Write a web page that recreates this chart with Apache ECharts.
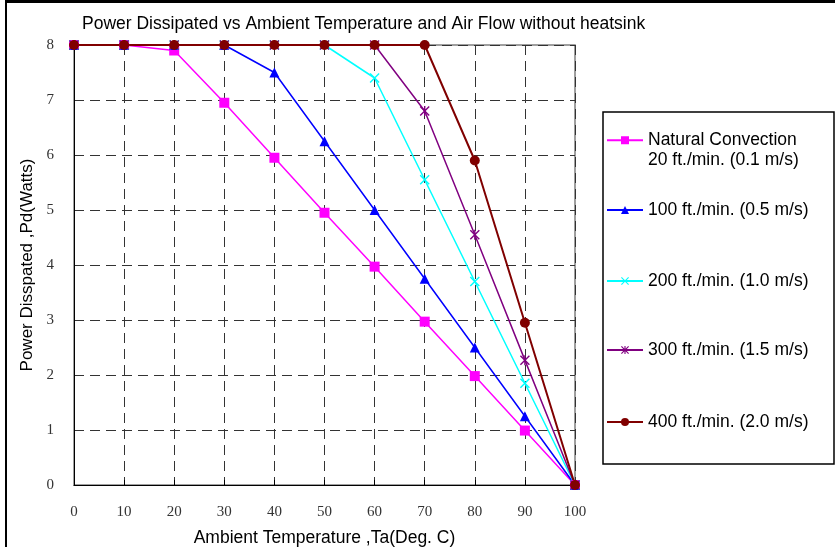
<!DOCTYPE html>
<html>
<head>
<meta charset="utf-8">
<script src="https://cdn.jsdelivr.net/npm/echarts@6/dist/echarts.min.js"></script>
<style>
  html, body { margin: 0; padding: 0; background: #fff; }
  #chart { width: 835px; height: 547px; }
</style>
</head>
<body>
<div id="chart"></div>
<script>
// ambient temperature (deg C)
var temps = [0, 10, 20, 30, 40, 50, 60, 70, 80, 90, 100];
// power dissipated (W) per air flow
var natural = [8, 8, 7.9, 6.95, 5.95, 4.95, 3.97, 2.97, 1.98, 0.99, 0];
var flow100 = [8, 8, 8, 8, 7.5, 6.25, 5.0, 3.75, 2.5, 1.25, 0];
var flow200 = [8, 8, 8, 8, 8, 8, 7.4, 5.55, 3.7, 1.85, 0];
var flow300 = [8, 8, 8, 8, 8, 8, 8, 6.8, 4.55, 2.27, 0];
var flow400 = [8, 8, 8, 8, 8, 8, 8, 8, 5.9, 2.95, 0];
var names = [
  'Natural Convection\n20 ft./min. (0.1 m/s)',
  '100 ft./min. (0.5 m/s)',
  '200 ft./min. (1.0 m/s)',
  '300 ft./min. (1.5 m/s)',
  '400 ft./min. (2.0 m/s)'
];

var sansFont = '"Liberation Sans", Arial, sans-serif';
var serifFont = '"Liberation Serif", "Times New Roman", serif';

// marker shapes
var crossPath = 'path://M0,1L1,0L5,4L9,0L10,1L6,5L10,9L9,10L5,6L1,10L0,9L4,5Z';
var starPath = 'path://M0,1L1,0L5,4L9,0L10,1L6,5L10,9L9,10L5,6L1,10L0,9L4,5Z' +
  'M4.3,0L5.7,0L5.7,10L4.3,10Z';

function pairs(vals) {
  return temps.map(function (t, i) { return [t, vals[i]]; });
}

var styles = [
  {color: '#ff00ff', symbol: 'rect', size: 10, width: 1.5},
  {color: '#0000ff', symbol: 'triangle', size: 10, width: 1.5},
  {color: '#00ffff', symbol: crossPath, size: 10, width: 1.5},
  {color: '#800080', symbol: starPath, size: 10, width: 1.5},
  {color: '#800000', symbol: 'circle', size: 10, width: 2}
];
var allData = [natural, flow100, flow200, flow300, flow400];

var series = allData.map(function (vals, i) {
  var s = styles[i];
  return {
    name: names[i],
    type: 'line',
    data: pairs(vals),
    symbol: s.symbol,
    symbolSize: s.size,
    clip: false,
    itemStyle: {color: s.color},
    lineStyle: {color: s.color, width: s.width}
  };
});

// one legend per entry so each sits where the original puts it
var legendTops = [111, 201, 272, 341, 413];
var legends = names.map(function (n, i) {
  var first = i === 0;
  return {
    data: [n],
    left: 606,
    top: legendTops[i],
    padding: 0,
    itemWidth: 36,
    itemHeight: 10,
    selectedMode: false,
    // blank first line keeps the icon level with "Natural Convection"
    formatter: first ? function (name) { return '\n' + name; } : '{name}',
    textStyle: {
      fontFamily: sansFont,
      fontSize: 17.5,
      color: '#000',
      lineHeight: first ? 19.5 : 18
    }
  };
});

var chart = echarts.init(document.getElementById('chart'));
chart.setOption({
  animation: false,
  title: {
    text: 'Power Dissipated vs Ambient Temperature and Air Flow without heatsink',
    left: 82,
    top: 15,
    padding: 0,
    textStyle: {fontFamily: sansFont, fontSize: 17.5, fontWeight: 'normal', color: '#000'}
  },
  legend: legends,
  grid: {
    left: 74, right: 260, top: 45, bottom: 62,
    outerBoundsMode: 'none',
    show: true, borderColor: '#808080', borderWidth: 1.5
  },
  xAxis: {
    type: 'value',
    min: 0, max: 100, interval: 10,
    name: 'Ambient Temperature ,Ta(Deg. C)',
    nameLocation: 'middle',
    nameGap: 44,
    nameTextStyle: {fontFamily: sansFont, fontSize: 17.5, color: '#000'},
    axisLine: {lineStyle: {color: '#000', width: 1}},
    axisTick: {show: true, inside: true, length: 5, lineStyle: {color: '#000'}},
    axisLabel: {fontFamily: serifFont, fontSize: 15, color: '#333', margin: 20},
    splitLine: {show: true, lineStyle: {color: '#333', type: [10, 6], width: 1}}
  },
  yAxis: {
    type: 'value',
    min: 0, max: 8, interval: 1,
    name: 'Power Disspated ,Pd(Watts)',
    nameLocation: 'middle',
    nameGap: 32,
    nameTextStyle: {fontFamily: sansFont, fontSize: 17, color: '#000'},
    axisLine: {show: true, lineStyle: {color: '#000', width: 1}},
    axisTick: {show: false},
    axisLabel: {fontFamily: serifFont, fontSize: 15, color: '#333', margin: 20},
    splitLine: {show: true, lineStyle: {color: '#333', type: [10, 6], width: 1}}
  },
  graphic: [
    {type: 'rect', shape: {x: 603, y: 112, width: 231, height: 352},
      style: {fill: 'none', stroke: '#000', lineWidth: 1.5}, z: -1},
    {type: 'line', shape: {x1: 6, y1: 0, x2: 6, y2: 547},
      style: {stroke: '#000', lineWidth: 2}},
    {type: 'line', shape: {x1: 5, y1: 1.5, x2: 835, y2: 1.5},
      style: {stroke: '#000', lineWidth: 3}}
  ],
  series: series
});
</script>
</body>
</html>
